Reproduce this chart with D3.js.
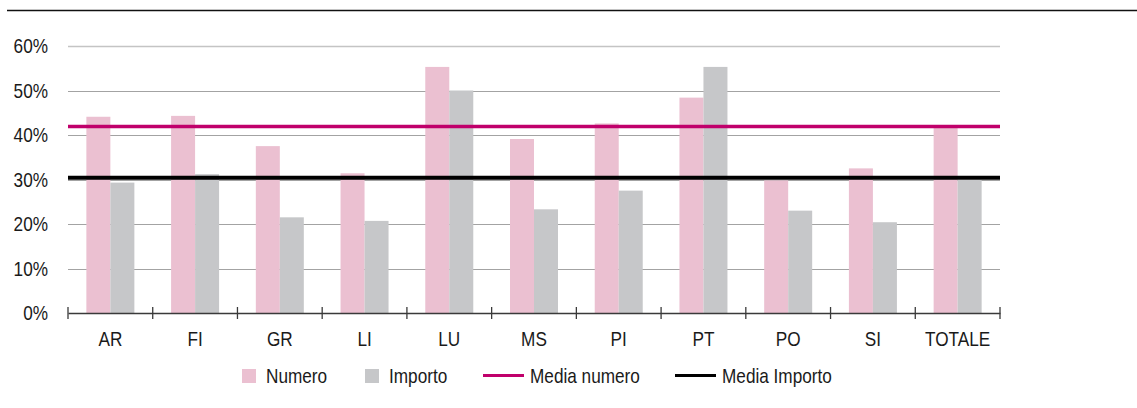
<!DOCTYPE html>
<html>
<head>
<meta charset="utf-8">
<script src="https://cdn.jsdelivr.net/npm/d3@7"></script>
<style>
  body { margin: 0; background: #fff; }
  svg text { font-family: "Liberation Sans", Arial, sans-serif; fill: #1a1a1a; }
</style>
</head>
<body>
<svg id="chart" width="1137" height="408"></svg>
<script>
// data
const categories = ["AR", "FI", "GR", "LI", "LU", "MS", "PI", "PT", "PO", "SI", "TOTALE"];
const numero = [44.1, 44.3, 37.5, 31.4, 55.3, 39.1, 42.6, 48.4, 29.8, 32.5, 41.8];
const importo = [29.3, 31.2, 21.5, 20.7, 50.0, 23.3, 27.5, 55.3, 23.0, 20.4, 29.9];
const mediaNumero = 41.9;
const mediaImporto = 30.4;
const yTicks = [0, 10, 20, 30, 40, 50, 60];
const seriesNames = ["Numero", "Importo"];

const colors = { Numero: "#ebc0d1", Importo: "#c6c7c9" };
const mediaColors = { numero: "#c0006b", importo: "#000000" };

// the original type is condensed: squeeze text horizontally
const squeeze = 0.86;
const at = (x, y) => `translate(${x},${y}) scale(${squeeze},1)`;

const svg = d3.select("#chart");
const margin = { left: 68, right: 1000, top: 46, bottom: 313 };

const x = d3.scaleBand().domain(categories).range([margin.left, margin.right]).padding(0);
const xInner = d3.scaleBand().domain(seriesNames).range([0, x.bandwidth()])
  .paddingInner(0).paddingOuter(0.765);
const y = d3.scaleLinear().domain([0, 60]).range([margin.bottom, margin.top]);

// top rule
svg.append("line")
  .attr("x1", 7).attr("x2", 1137).attr("y1", 10.5).attr("y2", 10.5)
  .attr("stroke", "#111").attr("stroke-width", 1.5);

// gridlines
svg.append("g").selectAll("line")
  .data(yTicks.filter((d) => d > 0))
  .join("line")
  .attr("x1", margin.left).attr("x2", margin.right)
  .attr("y1", (d) => Math.round(y(d)) + 0.5).attr("y2", (d) => Math.round(y(d)) + 0.5)
  .attr("stroke", (d) => d === 60 ? "#c4c4c4" : "#a3a3a3")
  .attr("stroke-width", (d) => d === 60 ? 1.6 : 1.2);

// y labels
svg.append("g").selectAll("text")
  .data(yTicks)
  .join("text")
  .attr("transform", (d) => at(48, y(d) + 7))
  .attr("text-anchor", "end")
  .attr("font-size", "20px")
  .text((d) => d + "%");

// bars
const rows = categories.map((c, i) => ({ cat: c, Numero: numero[i], Importo: importo[i] }));
const groups = svg.append("g").selectAll("g")
  .data(rows)
  .join("g")
  .attr("transform", (d) => `translate(${x(d.cat)},0)`);
groups.selectAll("rect")
  .data((d) => seriesNames.map((k) => ({ key: k, value: d[k] })))
  .join("rect")
  .attr("x", (d) => xInner(d.key))
  .attr("width", xInner.bandwidth())
  .attr("y", (d) => y(d.value))
  .attr("height", (d) => y(0) - y(d.value))
  .attr("fill", (d) => colors[d.key]);

// x axis
const axis = d3.axisBottom(x).tickSize(0).tickFormat((d) => d);
const axisG = svg.append("g")
  .attr("transform", `translate(0,${y(0)})`)
  .call(axis);
axisG.select(".domain").attr("stroke", "#3a3a3a").attr("stroke-width", 1.3);
axisG.selectAll("text")
  .attr("font-size", "20px")
  .attr("dy", null)
  .attr("y", null)
  .attr("transform", at(0, 33))
  .attr("font-family", null)
  .attr("fill", null);
axisG.selectAll(".tick line").remove();
const edges = categories.map((c) => x(c)).concat([margin.right]);
svg.append("g").selectAll("line")
  .data(edges)
  .join("line")
  .attr("x1", (d) => d).attr("x2", (d) => d)
  .attr("y1", y(0) - 6).attr("y2", y(0) + 6)
  .attr("stroke", "#3a3a3a").attr("stroke-width", 1.3);

// average lines
svg.append("line")
  .attr("x1", margin.left).attr("x2", margin.right)
  .attr("y1", y(mediaNumero)).attr("y2", y(mediaNumero))
  .attr("stroke", mediaColors.numero).attr("stroke-width", 3.5);
svg.append("line")
  .attr("x1", margin.left).attr("x2", margin.right)
  .attr("y1", y(mediaImporto)).attr("y2", y(mediaImporto))
  .attr("stroke", mediaColors.importo).attr("stroke-width", 4);

// legend
const legend = svg.append("g").attr("font-size", "20px");
const legendItems = [
  { label: "Numero", type: "box", color: colors.Numero, x: 242 },
  { label: "Importo", type: "box", color: colors.Importo, x: 365 },
  { label: "Media numero", type: "line", color: mediaColors.numero, x: 483 },
  { label: "Media Importo", type: "line", color: mediaColors.importo, x: 675 }
];
legendItems.forEach((it) => {
  if (it.type === "box") {
    legend.append("rect").attr("x", it.x).attr("y", 369).attr("width", 14).attr("height", 14)
      .attr("fill", it.color);
    legend.append("text").attr("transform", at(it.x + 24, 383)).text(it.label);
  } else {
    legend.append("line").attr("x1", it.x).attr("x2", it.x + 41).attr("y1", 375.5).attr("y2", 375.5)
      .attr("stroke", it.color).attr("stroke-width", 3);
    legend.append("text").attr("transform", at(it.x + 47, 383)).text(it.label);
  }
});
</script>
</body>
</html>
